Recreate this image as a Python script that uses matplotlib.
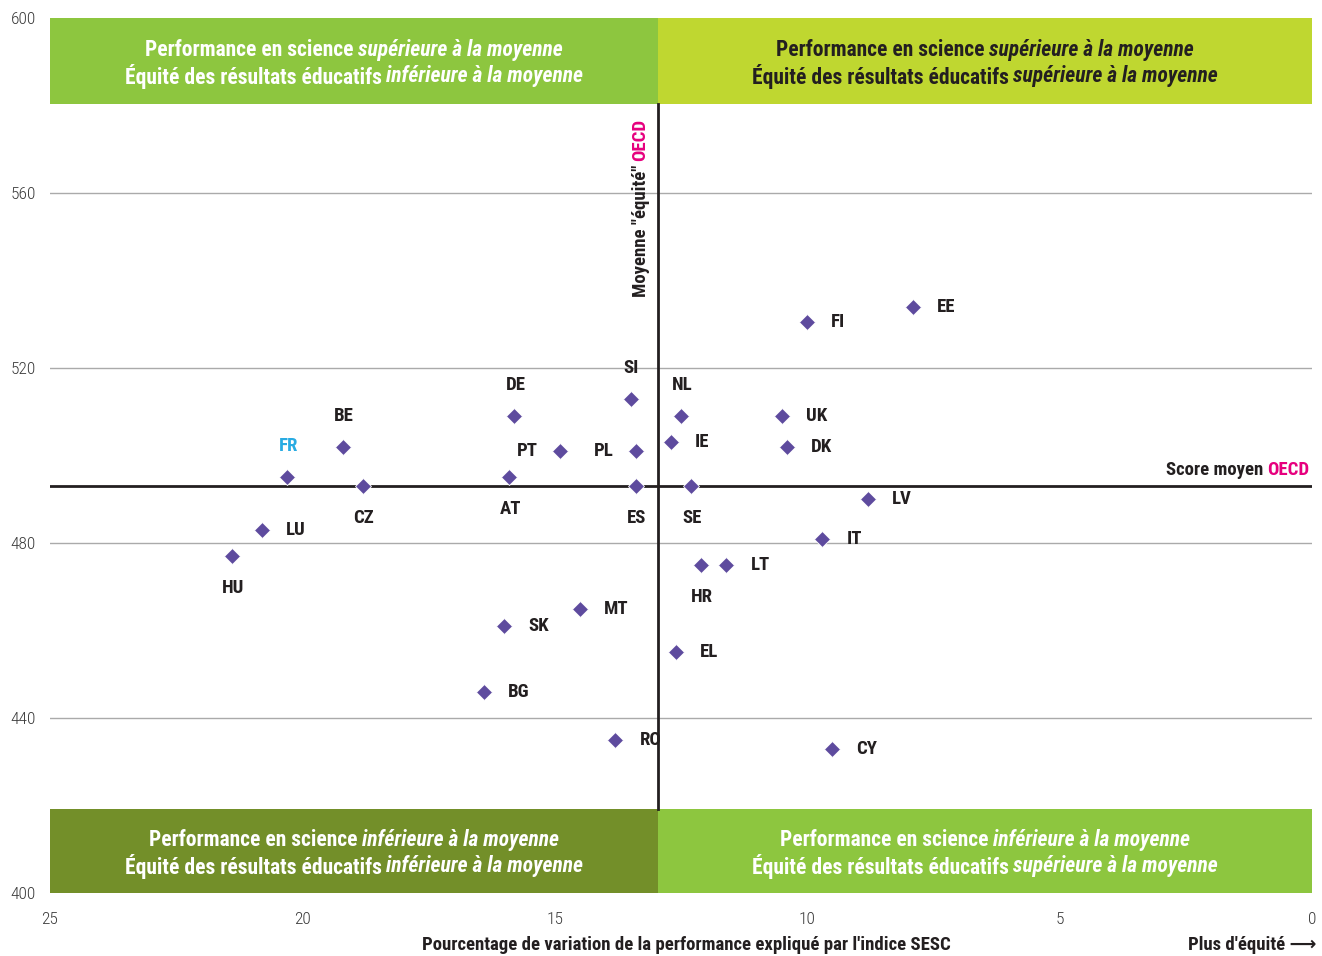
import matplotlib.pyplot as plt
from matplotlib import font_manager
from matplotlib.transforms import IdentityTransform

names = {f.name for f in font_manager.fontManager.ttflist}
if "Roboto Condensed" in names:
    plt.rcParams['font.family'] = ['Roboto Condensed', 'DejaVu Sans']
elif "Liberation Sans Narrow" in names:
    plt.rcParams['font.family'] = ['Liberation Sans Narrow', 'DejaVu Sans']
else:
    plt.rcParams['font.family'] = ['DejaVu Sans']
    plt.rcParams['font.stretch'] = 'condensed'

# data
countries = ["EE", "FI", "SI", "NL", "UK", "DE", "BE", "FR", "PT", "PL", "IE", "DK",
             "AT", "CZ", "ES", "SE", "LV", "LU", "IT", "HU", "HR", "LT", "MT", "SK",
             "EL", "BG", "RO", "CY"]
sesc_pct = [7.9, 10.0, 13.5, 12.5, 10.5, 15.8, 19.2, 20.3, 14.9, 13.4, 12.7, 10.4,
            15.9, 18.8, 13.4, 12.3, 8.8, 20.8, 9.7, 21.4, 12.1, 11.6, 14.5, 16.0,
            12.6, 16.4, 13.8, 9.5]
science = [534, 530.5, 513, 509, 509, 509, 502, 495, 501, 501, 503, 502,
           495, 493, 493, 493, 490, 483, 481, 477, 475, 475, 465, 461,
           455, 446, 435, 433]
oecd_equity = 12.96
oecd_score = 493

# where the label sits relative to the marker
label_pos = {"EE": "r", "FI": "r", "SI": "u", "NL": "u", "UK": "r", "DE": "u",
             "BE": "u", "FR": "u", "PT": "l", "PL": "l", "IE": "r", "DK": "r",
             "AT": "d", "CZ": "d", "ES": "d", "SE": "d", "LV": "r", "LU": "r",
             "IT": "r", "HU": "d", "HR": "d", "LT": "r", "MT": "r", "SK": "r",
             "EL": "r", "BG": "r", "RO": "r", "CY": "r"}
offsets = {"r": (24, 0, "left"), "l": (-22, 0, "right"), "u": (1, 31, "center"), "d": (1, -32, "center")}

purple = "#5e4b9e"
magenta = "#e6007e"
dark = "#231f20"

fig = plt.figure(figsize=(13.22, 9.56), dpi=100)
ax = fig.add_axes([50 / 1322, 63 / 956, 1262 / 1322, 875 / 956])
renderer = fig.canvas.get_renderer()

ax.set_xlim(25, 0)
ax.set_ylim(400, 600)
for s in ax.spines.values():
    s.set_visible(False)
ax.set_xticks([25, 20, 15, 10, 5, 0])
ax.set_yticks([400, 440, 480, 520, 560, 600])
ax.tick_params(length=0, labelsize=12.5, labelcolor="#3a3a3a")
ax.tick_params(axis="x", pad=14)
ax.tick_params(axis="y", pad=10)
for lbl in ax.get_xticklabels() + ax.get_yticklabels():
    lbl.set_fontweight("light")
ax.grid(axis="y", color="#aaaaaa", linewidth=1)
ax.set_axisbelow(True)

# quadrant bands
band_top = 580.4
band_bot = 419.3
ax.fill_between([25, oecd_equity], band_top, 600, color="#8dc63f", lw=0, zorder=2)
ax.fill_between([oecd_equity, 0], band_top, 600, color="#bfd730", lw=0, zorder=2)
ax.fill_between([25, oecd_equity], 400, band_bot, color="#738f29", lw=0, zorder=2)
ax.fill_between([oecd_equity, 0], 400, band_bot, color="#8dc63f", lw=0, zorder=2)

ax.plot([oecd_equity, oecd_equity], [band_bot, band_top], color=dark, lw=2, zorder=3)
ax.axhline(oecd_score, color=dark, lw=2, zorder=3)


def mixed(x, y, parts, size, color, ha="center", rotation=0):
    texts = []
    for s, style, c in parts:
        t = ax.text(0, 0, s, fontsize=size, fontweight="bold", fontstyle=style,
                    color=c or color, ha="left", va="center", rotation=rotation,
                    rotation_mode="anchor", zorder=5)
        texts.append(t)
    gap = size * 0.3
    if rotation:
        lens = [t.get_window_extent(renderer).height for t in texts]
    else:
        lens = [t.get_window_extent(renderer).width for t in texts]
    total = sum(lens) + gap * (len(parts) - 1)
    X, Y = ax.transData.transform((x, y))
    if rotation:
        pos = Y - total / 2 if ha == "center" else Y
    else:
        pos = X - total / 2 if ha == "center" else X - total
    for t, L in zip(texts, lens):
        t.set_transform(IdentityTransform())
        t.set_position((X, pos) if rotation else (pos, Y))
        pos += L + gap


perf_hi = ("Performance en science", "supérieure à la moyenne")
perf_lo = ("Performance en science", "inférieure à la moyenne")
eq_hi = ("Équité des résultats éducatifs", "supérieure à la moyenne")
eq_lo = ("Équité des résultats éducatifs", "inférieure à la moyenne")
quads = [((25 + oecd_equity) / 2, 1, perf_hi, eq_lo, "white"),
         (oecd_equity / 2, 1, perf_hi, eq_hi, dark),
         ((25 + oecd_equity) / 2, 0, perf_lo, eq_lo, "white"),
         (oecd_equity / 2, 0, perf_lo, eq_hi, "white")]
for xc, top, l1, l2, col in quads:
    yc = (band_top + 600) / 2 if top else (400 + band_bot) / 2
    mixed(xc, yc + 2.5, [(l1[0], "normal", None), (l1[1], "italic", None)], 15.5, col)
    mixed(xc, yc - 3.5, [(l2[0], "normal", None), (l2[1], "italic", None)], 15.5, col)

# reference line labels
mixed(oecd_equity + 0.34, 556.6, [('Moyenne "équité"', "normal", dark), ("OECD", "normal", magenta)],
      13.5, dark, rotation=90)
mixed(0.05, oecd_score + 3.7, [("Score moyen", "normal", dark), ("OECD", "normal", magenta)],
      13.5, dark, ha="right")

# points
ax.plot(sesc_pct, science, linestyle="none", marker="D", markersize=8.5,
        color=purple, markeredgecolor="white", markeredgewidth=0.6, zorder=4)
for c, x, y in zip(countries, sesc_pct, science):
    dx, dy, ha = offsets[label_pos[c]]
    ax.annotate(c, (x, y), xytext=(dx, dy), textcoords="offset pixels",
                ha=ha, va="center", fontsize=13.5, fontweight="bold",
                color="#29abe2" if c == "FR" else dark, zorder=5)

fig.text(686 / 1322, 1 - 945 / 956, "Pourcentage de variation de la performance expliqué par l'indice SESC",
         ha="center", va="center", fontsize=13.5, fontweight="bold", color=dark)
fig.text(1316 / 1322, 1 - 945 / 956, "Plus d'équité \u27f6", ha="right", va="center",
         fontsize=13.5, fontweight="bold", color=dark)

fig.savefig("out.png", dpi=100)
